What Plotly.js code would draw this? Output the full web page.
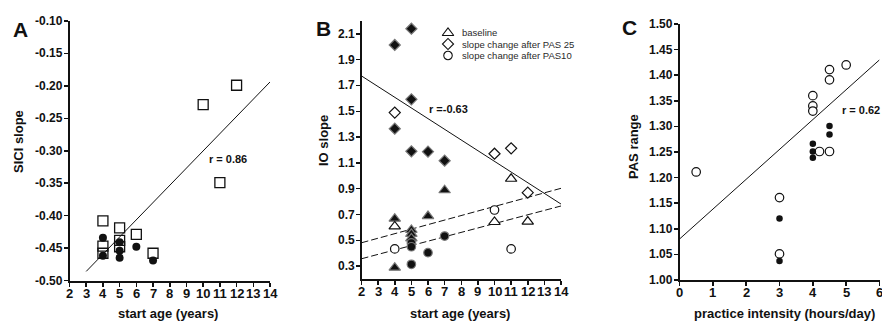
<!DOCTYPE html>
<html><head><meta charset="utf-8">
<script src="https://cdn.plot.ly/plotly-3.0.1.min.js"></script>
<style>html,body{margin:0;padding:0;background:#fff}#chart{width:882px;height:322px}</style>
</head><body><div id="chart"></div>
<script>
// ---------- Panel A : SICI slope vs start age ----------
const aSquareX = [4, 4, 4, 5, 5, 5, 6, 7, 10, 11, 12];
const aSquareY = [-0.408, -0.447, -0.458, -0.419, -0.438, -0.448, -0.429, -0.458, -0.229, -0.349, -0.199];
const aDotX = [4, 4, 5, 5, 5, 6, 7];
const aDotY = [-0.434, -0.462, -0.441, -0.454, -0.465, -0.448, -0.469];
const aFitX = [3, 14];
const aFitY = [-0.486, -0.194];
const aTickVals = [-0.50, -0.45, -0.40, -0.35, -0.30, -0.25, -0.20, -0.15, -0.10];
const aTickText = ["-0.50", "-0.45", "-0.40", "-0.35", "-0.30", "-0.25", "-0.20", "-0.15", "-0.10"];
const ageTicks = [2, 3, 4, 5, 6, 7, 8, 9, 10, 11, 12, 13, 14];

// ---------- Panel B : IO slope vs start age ----------
const bTriFilledX = [4, 4, 5, 5, 5, 6, 7];
const bTriFilledY = [0.668, 0.288, 0.58, 0.55, 0.515, 0.688, 0.888];
const bTriOpenX = [4, 10, 11, 12];
const bTriOpenY = [0.608, 0.642, 0.977, 0.645];
const bDiaFilledX = [4, 5, 5, 4, 5, 6, 7];
const bDiaFilledY = [2.014, 2.14, 1.593, 1.365, 1.19, 1.187, 1.117];
const bDiaOpenX = [4, 10, 11, 12];
const bDiaOpenY = [1.49, 1.171, 1.213, 0.869];
const bCirFilledX = [5, 5, 5, 6, 7];
const bCirFilledY = [0.48, 0.45, 0.314, 0.404, 0.533];
const bCirOpenX = [4, 10, 11];
const bCirOpenY = [0.433, 0.735, 0.433];
const bFitX = [2, 14];
const bFitSolidY = [1.774, 0.781];
const bFitDashUpperY = [0.481, 0.903];
const bFitDashLowerY = [0.357, 0.766];
const bTickVals = [0.3, 0.5, 0.7, 0.9, 1.1, 1.3, 1.5, 1.7, 1.9, 2.1];
const bTickText = ["0.3", "0.5", "0.7", "0.9", "1.1", "1.3", "1.5", "1.7", "1.9", "2.1"];
const legendLabels = ["baseline", "slope change after PAS 25", "slope change after PAS10"];

// ---------- Panel C : PAS range vs practice intensity ----------
const cOpenX = [0.5, 3, 3, 4, 4, 4, 4.2, 4.5, 4.5, 4.5, 5];
const cOpenY = [1.211, 1.161, 1.051, 1.360, 1.340, 1.330, 1.251, 1.411, 1.391, 1.251, 1.420];
const cDotX = [3, 3, 4, 4, 4, 4.5, 4.5];
const cDotY = [1.120, 1.037, 1.266, 1.251, 1.239, 1.301, 1.284];
const cFitX = [0, 6];
const cFitY = [1.08, 1.43];
const cTickVals = [1.00, 1.05, 1.10, 1.15, 1.20, 1.25, 1.30, 1.35, 1.40, 1.45, 1.50];
const cTickText = ["1.00", "1.05", "1.10", "1.15", "1.20", "1.25", "1.30", "1.35", "1.40", "1.45", "1.50"];
const cXTicks = [0, 1, 2, 3, 4, 5, 6];

// ---------- layout helpers ----------
const W = 882, H = 322;
const FONT = "Liberation Sans, Arial, Helvetica, sans-serif";
const INK = "#111";
const px = v => v / W;
const py = v => (H - v) / H;

// plot-area geometry in pixels
const geo = {
  A: {l: 69.5, r: 270, t: 21, b: 280.5},
  B: {l: 361.5, r: 561, t: 21, b: 279},
  C: {l: 679.5, r: 879.5, t: 24, b: 280}
};

function axisBase(extra) {
  return Object.assign({
    showline: true, linewidth: 2, linecolor: INK,
    ticks: "outside", ticklen: 4, tickwidth: 1.5, tickcolor: INK,
    showgrid: false, zeroline: false, fixedrange: true,
    tickmode: "array", showticklabels: false
  }, extra);
}

const traces = [];
function line(x, y, xa, ya, dash) {
  traces.push({x: x, y: y, xaxis: xa, yaxis: ya, mode: "lines", type: "scatter",
    line: {color: INK, width: 1, dash: dash || "solid"}, hoverinfo: "skip", showlegend: false});
}
function pts(x, y, xa, ya, marker) {
  traces.push({x: x, y: y, xaxis: xa, yaxis: ya, mode: "markers", type: "scatter",
    marker: marker, hoverinfo: "skip", showlegend: false, cliponaxis: false});
}

// Panel A
line(aFitX, aFitY, "x", "y");
pts(aSquareX, aSquareY, "x", "y", {symbol: "square-open", size: 10, color: INK, line: {width: 1.3, color: INK}});
pts(aDotX, aDotY, "x", "y", {symbol: "circle", size: 8, color: "#111", line: {width: 0}});

// Panel B
line(bFitX, bFitSolidY, "x2", "y2");
line(bFitX, bFitDashUpperY, "x2", "y2", "7px,3px");
line(bFitX, bFitDashLowerY, "x2", "y2", "7px,3px");
const filledB = {color: "#111", line: {color: "#777", width: 1.2}};
const openB = {color: "#fff", line: {color: INK, width: 1.2}};
pts(bTriFilledX, bTriFilledY, "x2", "y2", Object.assign({symbol: "triangle-up", size: 10}, filledB));
pts(bDiaFilledX, bDiaFilledY, "x2", "y2", Object.assign({symbol: "diamond", size: 8.5}, filledB));
pts(bCirFilledX, bCirFilledY, "x2", "y2", Object.assign({symbol: "circle", size: 8.5}, filledB));
pts(bTriOpenX, bTriOpenY, "x2", "y2", Object.assign({symbol: "triangle-up", size: 10}, openB));
pts(bDiaOpenX, bDiaOpenY, "x2", "y2", Object.assign({symbol: "diamond", size: 8.5}, openB));
pts(bCirOpenX, bCirOpenY, "x2", "y2", Object.assign({symbol: "circle", size: 8.5}, openB));

// Panel C
line(cFitX, cFitY, "x3", "y3");
pts(cOpenX, cOpenY, "x3", "y3", {symbol: "circle", size: 8.5, color: "#fff", line: {color: INK, width: 1.2}});
pts(cDotX, cDotY, "x3", "y3", {symbol: "circle", size: 6.5, color: "#111", line: {width: 0}});

// Legend (drawn on a hidden pixel-space overlay axis)
const legX = 448, legTextX = 460, legRows = [32, 44, 55.5];
const legSymbols = ["triangle-up", "diamond", "circle"];
const legSizes = [10, 8.5, 8.5];
legSymbols.forEach((s, i) => {
  pts([legX], [legRows[i] + (i === 0 ? 1 : 0)], "x4", "y4", {symbol: s, size: legSizes[i], color: "#fff", line: {color: INK, width: 1.1}});
});

const annotations = [];
function ann(text, x, y, opts) {
  annotations.push(Object.assign({text: text, x: px(x), y: py(y), xref: "paper", yref: "paper",
    showarrow: false, xanchor: "center", yanchor: "middle",
    font: {family: FONT, size: 13, color: INK}}, opts || {}));
}
// tick labels (bold), positioned on the axes' own scales
function xTickLabels(vals, xref, g) {
  vals.forEach(v => annotations.push({text: "<b>" + v + "</b>", x: v, xref: xref, y: py(g.b + 12.5), yref: "paper",
    showarrow: false, xanchor: "center", yanchor: "middle", font: {family: FONT, size: 13, color: INK}}));
}
function yTickLabels(vals, text, yref, g) {
  vals.forEach((v, i) => annotations.push({text: "<b>" + text[i] + "</b>", x: px(g.l - 5), xref: "paper", y: v, yref: yref,
    showarrow: false, xanchor: "right", yanchor: "middle", font: {family: FONT, size: 12, color: INK}}));
}
xTickLabels(ageTicks, "x", geo.A);
xTickLabels(ageTicks, "x2", geo.B);
xTickLabels(cXTicks, "x3", geo.C);
yTickLabels(aTickVals, aTickText, "y", geo.A);
yTickLabels(bTickVals, bTickText, "y2", geo.B);
yTickLabels(cTickVals, cTickText, "y3", geo.C);

// panel letters
ann("<b>A</b>", 20, 29.5, {font: {family: FONT, size: 21, color: INK}});
ann("<b>B</b>", 323, 28, {font: {family: FONT, size: 21, color: INK}});
ann("<b>C</b>", 629.5, 27.5, {font: {family: FONT, size: 21, color: INK}});
// axis titles
ann("<b>SICI slope</b>", 18, 142, {textangle: -90});
ann("<b>IO slope</b>", 323, 141, {textangle: -90});
ann("<b>PAS range</b>", 633, 147, {textangle: -90});
ann("<b>start age (years)</b>", 168, 313);
ann("<b>start age (years)</b>", 460, 313);
ann("<b>practice intensity (hours/day)</b>", 784, 313);
// correlation labels (data coordinates)
annotations.push({text: "<b>r = 0.86</b>", x: 11.5, y: -0.313, xref: "x", yref: "y", showarrow: false,
  font: {family: FONT, size: 11, color: INK}});
annotations.push({text: "<b>r =-0.63</b>", x: 7.25, y: 1.515, xref: "x2", yref: "y2", showarrow: false,
  font: {family: FONT, size: 11, color: INK}});
annotations.push({text: "<b>r = 0.62</b>", x: 5.44, y: 1.332, xref: "x3", yref: "y3", showarrow: false,
  font: {family: FONT, size: 11, color: INK}});
// legend labels
legendLabels.forEach((t, i) => {
  annotations.push({text: t, x: legTextX, y: legRows[i], xref: "x4", yref: "y4", showarrow: false,
    xanchor: "left", yanchor: "middle", font: {family: FONT, size: 9.5, color: "#2a2a2a"}});
});

const layout = {
  width: W, height: H, margin: {l: 0, r: 0, t: 0, b: 0},
  paper_bgcolor: "#fff", plot_bgcolor: "rgba(0,0,0,0)", showlegend: false,
  font: {family: FONT, color: INK},
  xaxis: axisBase({domain: [px(geo.A.l), px(geo.A.r)], range: [2, 14], tickvals: ageTicks, anchor: "y"}),
  yaxis: axisBase({domain: [py(geo.A.b), py(geo.A.t)], range: [-0.5, -0.1], tickvals: aTickVals, anchor: "x"}),
  xaxis2: axisBase({domain: [px(geo.B.l), px(geo.B.r)], range: [2, 14], tickvals: ageTicks, anchor: "y2"}),
  yaxis2: axisBase({domain: [py(geo.B.b), py(geo.B.t)], range: [0.2, 2.2], tickvals: bTickVals, anchor: "x2"}),
  xaxis3: axisBase({domain: [px(geo.C.l), px(geo.C.r)], range: [0, 6], tickvals: cXTicks, anchor: "y3"}),
  yaxis3: axisBase({domain: [py(geo.C.b), py(geo.C.t)], range: [1.0, 1.5], tickvals: cTickVals, anchor: "x3"}),
  xaxis4: {domain: [0, 1], range: [0, W], visible: false, fixedrange: true, anchor: "y4"},
  yaxis4: {domain: [0, 1], range: [H, 0], visible: false, fixedrange: true, anchor: "x4"},
  annotations: annotations
};

Plotly.newPlot("chart", traces, layout, {displayModeBar: false, staticPlot: true});
</script>
</body></html>
